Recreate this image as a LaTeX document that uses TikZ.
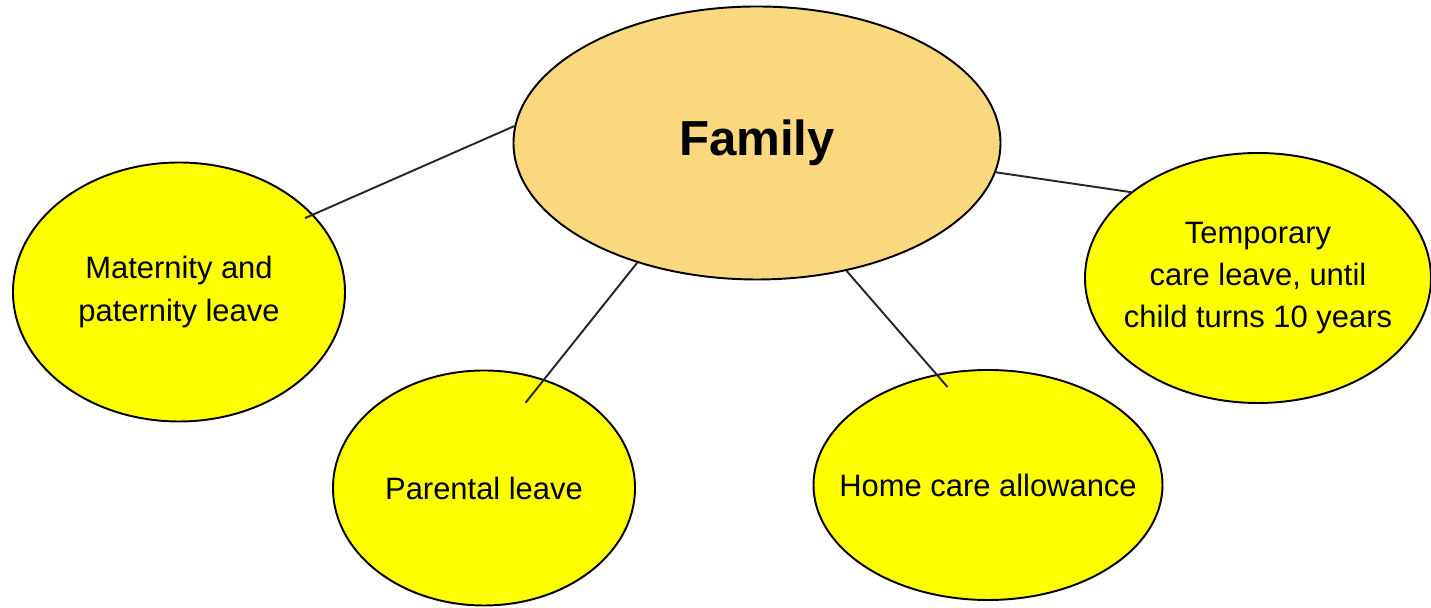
\documentclass[tikz,border=0pt]{standalone}
\usepackage{fontspec}
\setmainfont{Liberation Sans}
\usetikzlibrary{shapes.geometric}
\definecolor{famfill}{RGB}{250,216,128}
\definecolor{leaffill}{RGB}{255,255,0}
\tikzset{
  topic/.style={draw=black,ellipse,line width=1.1pt,fill=famfill,inner sep=0pt,
    font=\fontsize{28}{32}\selectfont\bfseries},
  benefit/.style={draw=black,ellipse,line width=1.1pt,fill=leaffill,
    inner ysep=0pt,inner xsep=-25mm,
    align=center,font=\fontsize{17.6}{24}\selectfont},
  link/.style={line width=1.1pt,black!85},
}
\begin{document}
\begin{tikzpicture}
  \useasboundingbox (0,0) rectangle (28.62,12.16);
  \node[topic,minimum width=97.4mm,minimum height=54.6mm] (family) at (15.14,9.30) {Family};
  \node[benefit,minimum width=66.4mm,minimum height=51.8mm] (matpat) at (3.58,6.32)
    {Maternity and\\paternity leave};
  \node[benefit,minimum width=60.4mm,minimum height=47mm] (parental) at (9.68,2.40)
    {Parental leave};
  \node[benefit,minimum width=69.8mm,minimum height=46mm] (homecare) at (19.76,2.46)
    {Home care allowance};
  \node[benefit,minimum width=69.2mm,minimum height=50mm] (tempcare) at (25.16,6.60)
    {Temporary\\care leave, until\\child turns 10 years};
  % spokes
  \draw[link,shorten >=-0.18cm] (family.176.9) -- (matpat.30.7);
  \draw[link,shorten >=-0.6cm] (family.225) -- (parental.61.8);
  \draw[link,shorten >=-0.34cm] (family.305.8) -- (homecare.115.2);
  \draw[link] (family.353) -- (tempcare.146.1);
\end{tikzpicture}
\end{document}
